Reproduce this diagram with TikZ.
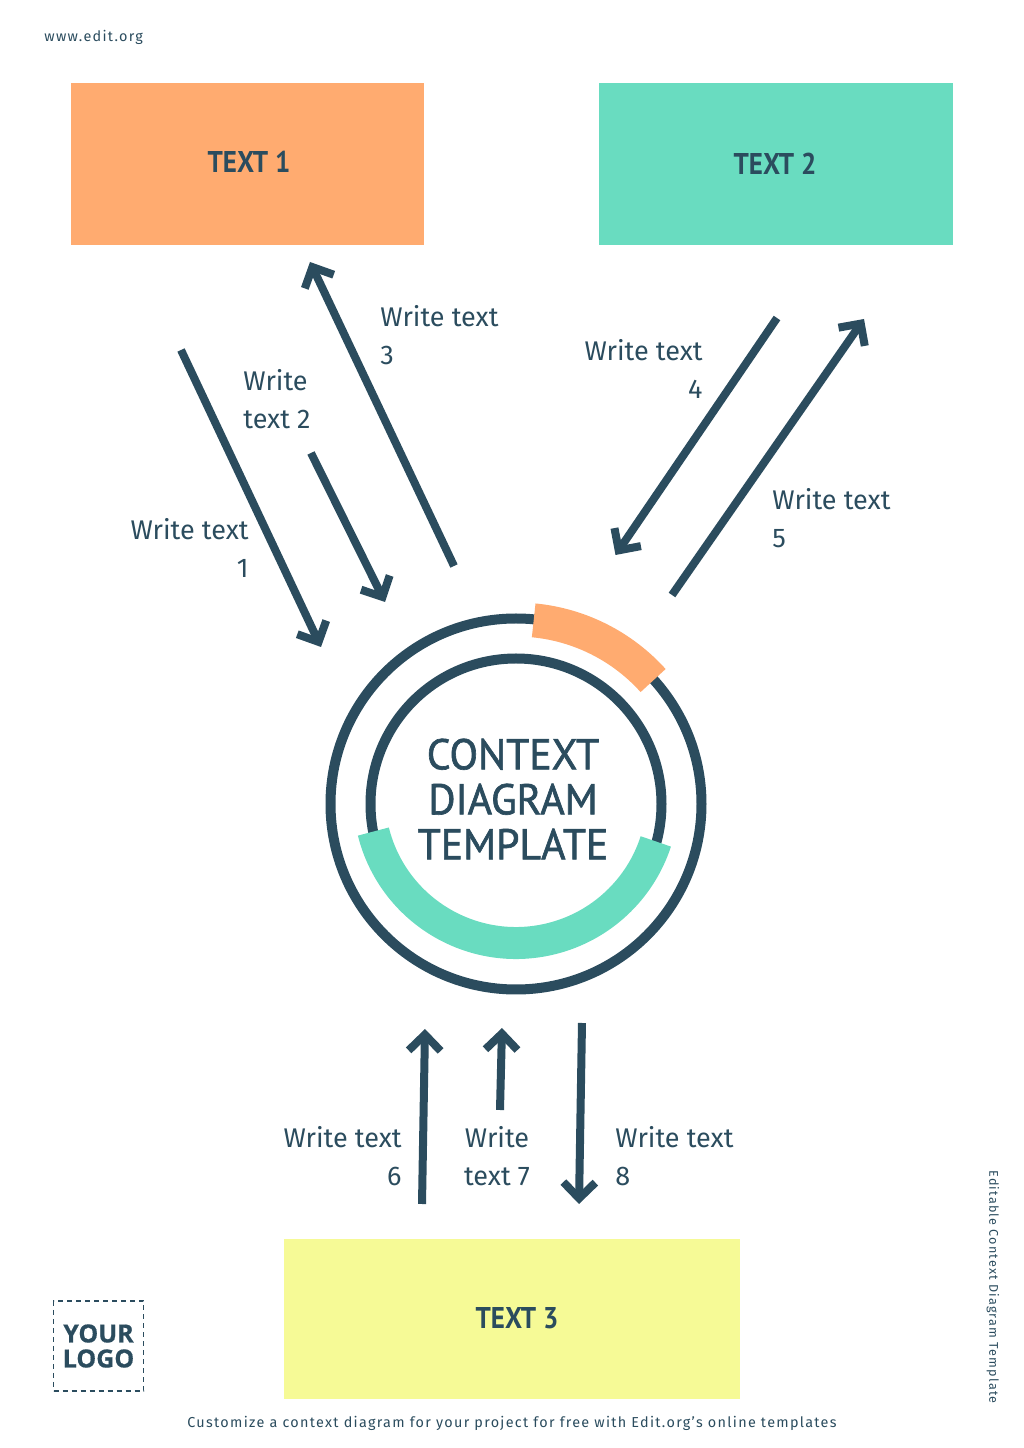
\documentclass[tikz,border=0pt]{standalone}
\usepackage{fontspec}
\usepackage{xcolor}
\usetikzlibrary{arrows.meta}
\setmainfont{Fira Sans}
\newfontfamily\headfont[FakeStretch=.97,FakeBold=1.5]{PT Sans}
\newfontfamily\boxfont[FakeStretch=.9]{PT Sans}
\newfontfamily\logofont[FakeBold=.6]{Open Sans}
\newfontfamily\smallfont[LetterSpace=9]{Fira Sans}
\definecolor{inkblue}{HTML}{2B4C5E}
\definecolor{boxorange}{HTML}{FFAB70}
\definecolor{boxteal}{HTML}{69DCC0}
\definecolor{boxyellow}{HTML}{F6FA96}
\tikzset{
  flowarrow/.style={draw=inkblue,line width=4pt,-{Straight Barb[length=8pt,width=16pt,line width=4pt]}},
  flowlabel/.style={text=inkblue,inner sep=0pt,font=\fontsize{13.5}{19}\selectfont},
  boxlabel/.style={text=inkblue,inner sep=0pt,font=\boxfont\bfseries\fontsize{15}{18}\selectfont},
  smalltext/.style={text=inkblue,inner sep=0pt,font=\smallfont\fontsize{7.2}{9}\selectfont}
}
\begin{document}
\begin{tikzpicture}[x=0.5pt,y=0.5pt]
\useasboundingbox (0,0) rectangle (1024,1448);
% Boxes
\fill[boxorange] (71,1203) rectangle (424,1365);
\fill[boxteal] (599,1203) rectangle (953,1365);
\fill[boxyellow] (284,49) rectangle (740,209);
\node[boxlabel] (text1) at (249,1286) {TEXT 1};
\node[boxlabel] (text2) at (775,1284) {TEXT 2};
\node[boxlabel] (text3) at (517,130) {TEXT 3};
% Rings
\coordinate (ring) at (516,644);
\coordinate (tealmid) at (516,652);
\draw[inkblue,line width=5pt] (ring) circle (185.5);
\draw[inkblue,line width=5pt] (ring) circle (145.5);
\draw[boxorange,line width=17pt] ([shift={(84.5:184.5)}]ring) arc[start angle=84.5,end angle=42,radius=184.5];
\draw[boxteal,line width=16pt] ([shift={(194:147)}]tealmid) arc[start angle=194,end angle=342,radius=147];
\node[text=inkblue,inner sep=0pt,align=center,font=\headfont\fontsize{21.5}{22.5}\selectfont] (title) at (513,649) {CONTEXT\\DIAGRAM\\TEMPLATE};
% Arrows
\coordinate (a1) at (181,1098);
\coordinate (b1) at (321,801);
\coordinate (a2) at (311,995);
\coordinate (b2) at (385,846);
\coordinate (a3) at (454,882);
\coordinate (b3) at (310,1186);
\coordinate (a4) at (777,1130);
\coordinate (b4) at (615.5,893);
\coordinate (a5) at (672,853);
\coordinate (b5) at (864,1129);
\coordinate (a6) at (422,244);
\coordinate (b6) at (425,419);
\coordinate (a7) at (500,338);
\coordinate (b7) at (502,420);
\coordinate (a8) at (582,425);
\coordinate (b8) at (579,244);
\foreach \i in {1,...,8}
  \draw[flowarrow] (a\i) -- (b\i);
% Labels
\node[flowlabel,anchor=east,align=right] (write1) at (249,900.5) {Write text\\1};
\node[flowlabel,anchor=west,align=left] (write2) at (243,1048.5) {Write\\text 2};
\node[flowlabel,anchor=west,align=left] (write3) at (380,1112.5) {Write text\\3};
\node[flowlabel,anchor=east,align=right] (write4) at (703,1079.5) {Write text\\4};
\node[flowlabel,anchor=west,align=left] (write5) at (772,929.5) {Write text\\5};
\node[flowlabel,anchor=east,align=right] (write6) at (402,291.5) {Write text\\6};
\node[flowlabel,align=center] (write7) at (497,291.5) {Write\\text 7};
\node[flowlabel,anchor=west,align=left] (write8) at (615,291.5) {Write text\\8};
% Logo
\node[draw=inkblue,line width=.8pt,dash pattern=on 2.5pt off 2pt,minimum size=45pt,inner sep=0pt,text=inkblue,align=center,font=\logofont\bfseries\fontsize{12.5}{12.5}\selectfont] (logo) at (98.5,102) {YOUR\\LOGO};
% Small texts
\node[smalltext,anchor=west] (web) at (44,1411) {www.edit.org};
\node[smalltext] (foot) at (512,24.5) {Customize a context diagram for your project for free with Edit.org’s online templates};
\node[smalltext,rotate=-90,font=\smallfont\fontsize{6.3}{8}\selectfont] (side) at (993,161) {Editable Context Diagram Template};
\end{tikzpicture}
\end{document}
